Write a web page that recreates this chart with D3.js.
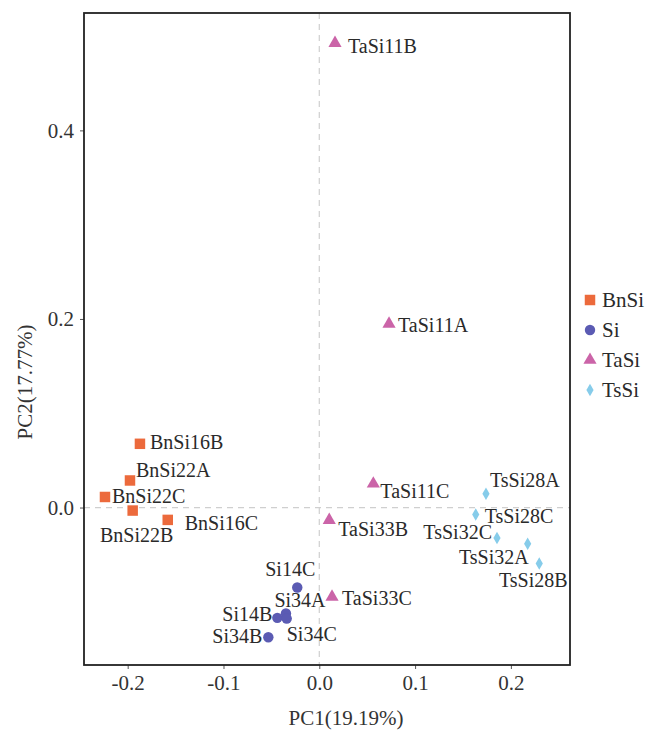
<!DOCTYPE html>
<html>
<head>
<meta charset="utf-8">
<script src="https://cdn.jsdelivr.net/npm/d3@7/dist/d3.min.js"></script>
<style>
  html, body { margin: 0; padding: 0; background: #fff; }
  svg { display: block; font-family: "Liberation Serif", "Times New Roman", serif; }
</style>
</head>
<body>
<svg id="chart" width="646" height="731"></svg>
<script>
// PCA sample scores
const samples = ["BnSi16B","BnSi22A","BnSi22C","BnSi22B","BnSi16C",
                 "Si14C","Si34A","Si14B","Si34C","Si34B",
                 "TaSi11B","TaSi11A","TaSi11C","TaSi33B","TaSi33C",
                 "TsSi28A","TsSi28C","TsSi32C","TsSi32A","TsSi28B"];
const groupOf = ["BnSi","BnSi","BnSi","BnSi","BnSi",
                 "Si","Si","Si","Si","Si",
                 "TaSi","TaSi","TaSi","TaSi","TaSi",
                 "TsSi","TsSi","TsSi","TsSi","TsSi"];
const pc1 = [-0.1872,-0.1976,-0.2237,-0.1948,-0.1582,
             -0.0230,-0.0348,-0.0438,-0.0340,-0.0532,
              0.0164, 0.0728, 0.0564, 0.0104, 0.0133,
              0.1740, 0.1633, 0.1855, 0.2175, 0.2296];
const pc2 = [ 0.0676, 0.0287, 0.0112,-0.0032,-0.0131,
             -0.0848,-0.1124,-0.1170,-0.1178,-0.1376,
              0.4926, 0.1947, 0.0252,-0.0134,-0.0947,
              0.0146,-0.0074,-0.0322,-0.0383,-0.0593];

const groups = ["BnSi","Si","TaSi","TsSi"];
const groupColors = ["#EC6A3C","#5B5BB3","#CB64A8","#86CCEA"];
const xTicks = [-0.2,-0.1,0.0,0.1,0.2];
const yTicks = [0.0,0.2,0.4];
const xTitle = "PC1(19.19%)";
const yTitle = "PC2(17.77%)";

// label placement relative to each point: [dx, dy, anchor]
const labelPlacement = [
  [10,-2,"start"],[6,-10,"start"],[7,-1,"start"],[4,24,"middle"],[17,3,"start"],
  [-7,-18,"middle"],[14,-14,"middle"],[-5,-4,"end"],[0,15,"start"],[-6,-1,"end"],
  [13,3,"start"],[9,1,"start"],[7,7,"start"],[9,9,"start"],[10,1,"start"],
  [4,-14,"start"],[9,1,"start"],[-5,-6,"end"],[1,13,"end"],[-6,17,"middle"]
];

const svg = d3.select("#chart");
const panel = {left: 84, right: 570, top: 13, bottom: 665};

const x = d3.scaleLinear().domain([-0.2456, 0.2617]).range([panel.left, panel.right]);
const y = d3.scaleLinear().domain([-0.1670, 0.5245]).range([panel.bottom, panel.top]);
const color = d3.scaleOrdinal().domain(groups).range(groupColors);
const shape = d3.scaleOrdinal().domain(groups)
  .range([d3.symbolSquare, d3.symbolCircle, d3.symbolTriangle, d3.symbolDiamond]);
const symSize = {BnSi: 110, Si: 85, TaSi: 75, TsSi: 45};

// zero reference lines
svg.append("line")
  .attr("x1", x(0)).attr("x2", x(0)).attr("y1", panel.top).attr("y2", panel.bottom)
  .attr("stroke", "#cfcfcf").attr("stroke-width", 1.2).attr("stroke-dasharray", "6,5");
svg.append("line")
  .attr("x1", panel.left).attr("x2", panel.right).attr("y1", y(0)).attr("y2", y(0))
  .attr("stroke", "#cfcfcf").attr("stroke-width", 1.2).attr("stroke-dasharray", "6,5");

// axes (plain hyphen for negative numbers)
const fmt = d3.formatLocale({decimal: ".", thousands: ",", grouping: [3], currency: ["", ""], minus: "-"}).format(".1f");
const xAxis = svg.append("g").attr("transform", `translate(0,${panel.bottom})`)
  .call(d3.axisBottom(x).tickValues(xTicks).tickFormat(fmt).tickSizeOuter(0).tickSize(4).tickPadding(6));
const yAxis = svg.append("g").attr("transform", `translate(${panel.left},0)`)
  .call(d3.axisLeft(y).tickValues(yTicks).tickFormat(fmt).tickSizeOuter(0).tickSize(4).tickPadding(6));
[xAxis, yAxis].forEach(g => {
  g.select(".domain").remove();
  g.selectAll(".tick line").attr("stroke", "#555").attr("stroke-width", 1);
  g.selectAll(".tick text").attr("fill", "#333").style("font-size", "21px")
    .style("font-family", "Liberation Serif, serif");
});

// panel border
svg.append("rect")
  .attr("x", panel.left).attr("y", panel.top)
  .attr("width", panel.right - panel.left).attr("height", panel.bottom - panel.top)
  .attr("fill", "none").attr("stroke", "#222").attr("stroke-width", 1.8);

// axis titles
svg.append("text").attr("x", 346).attr("y", 725).attr("text-anchor", "middle")
  .attr("fill", "#333").style("font-size", "21px").text(xTitle);
svg.append("text").attr("transform", "translate(32,382) rotate(-90)")
  .attr("text-anchor", "middle").attr("fill", "#333").style("font-size", "21px").text(yTitle);

// points
const pts = samples.map((s, i) => ({name: s, group: groupOf[i], pc1: pc1[i], pc2: pc2[i], lp: labelPlacement[i]}));
svg.append("g").selectAll("path").data(pts).join("path")
  .attr("transform", d => `translate(${x(d.pc1)},${y(d.pc2)})`)
  .attr("d", d => d3.symbol().type(shape(d.group)).size(symSize[d.group])())
  .attr("fill", d => color(d.group));

// point labels
svg.append("g").selectAll("text").data(pts).join("text")
  .attr("x", d => x(d.pc1) + d.lp[0])
  .attr("y", d => y(d.pc2) + d.lp[1])
  .attr("text-anchor", d => d.lp[2])
  .attr("dominant-baseline", "central")
  .attr("fill", "#2a2a2a").style("font-size", "20px")
  .text(d => d.name);

// legend
const legend = svg.append("g").attr("transform", "translate(590,300)");
groups.forEach((g, i) => {
  const row = legend.append("g").attr("transform", `translate(0,${i * 30})`);
  row.append("path").attr("d", d3.symbol().type(shape(g)).size(symSize[g])()).attr("fill", color(g));
  row.append("text").attr("x", 12).attr("y", 0).attr("dominant-baseline", "central")
    .attr("fill", "#2a2a2a").style("font-size", "21px").text(g);
});
</script>
</body>
</html>
